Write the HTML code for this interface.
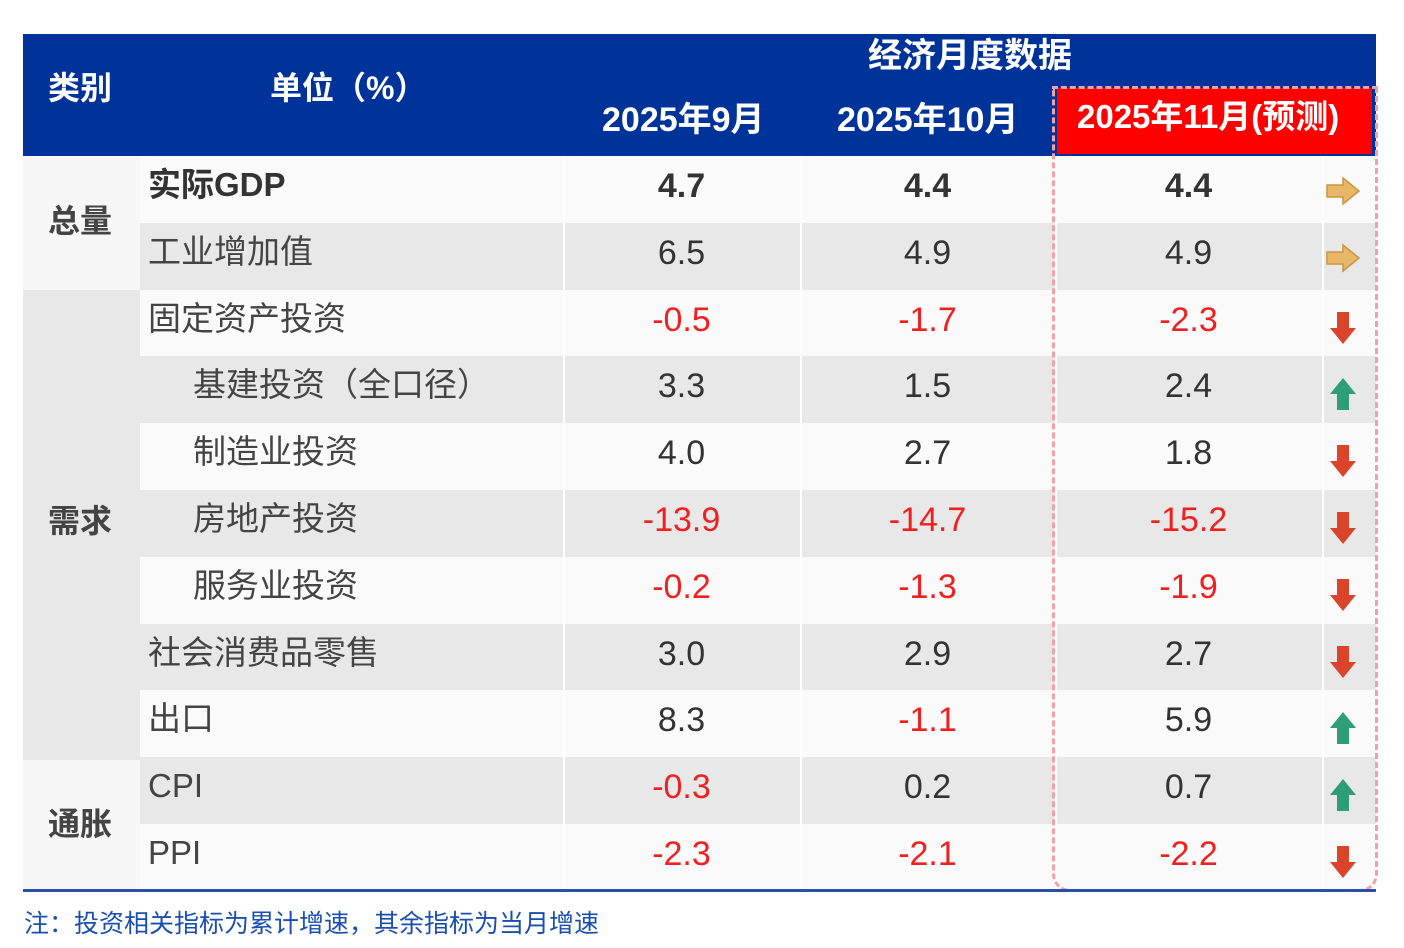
<!DOCTYPE html>
<html><head><meta charset="utf-8"><style>
body{margin:0;width:1404px;height:948px;background:#fff;position:relative;overflow:hidden;font-family:"Liberation Sans","Noto Sans CJK SC",sans-serif;}
.a{position:absolute;line-height:40px;}
.hd{color:#fff;font-weight:bold;font-size:34px;white-space:nowrap;}
.row{position:absolute;left:140px;width:1236px;}
.t{position:absolute;font-size:33px;color:#444;white-space:nowrap;line-height:40px;}
.n{position:absolute;font-size:34px;color:#333;text-align:center;line-height:40px;}
.r{color:#f02020;}
</style></head><body>
<div class="a" style="left:23px;top:34px;width:1353px;height:122px;background:#003399"></div>
<div class="a hd" style="left:48px;top:68px;font-size:32px">类别</div>
<div class="a hd" style="left:270px;top:68px;font-size:32px">单位（%）</div>
<div class="a hd" style="left:868px;top:36px">经济月度数据</div>
<div class="a hd" style="left:602px;top:100px">2025年9月</div>
<div class="a hd" style="left:837px;top:100px">2025年10月</div>
<div class="a" style="left:1057px;top:88px;width:315px;height:66px;background:#ff0000"></div>
<div class="a hd" style="left:1077px;top:97px;font-size:33px">2025年11月(预测)</div>

<div class="a" style="left:23px;top:156px;width:117px;height:134px;background:#f7f7f7"></div>
<div class="a" style="left:23px;top:290px;width:117px;height:470px;background:#e8e8e8"></div>
<div class="a" style="left:23px;top:760px;width:117px;height:131px;background:#f7f7f7"></div>
<div class="a" style="left:48px;top:201px;font-size:32px;font-weight:bold;color:#444">总量</div>
<div class="a" style="left:48px;top:501px;font-size:32px;font-weight:bold;color:#444">需求</div>
<div class="a" style="left:48px;top:804px;font-size:32px;font-weight:bold;color:#444">通胀</div>

<div id="rows"></div>
<script>
const d=[["实际GDP","4.7","4.4","4.4","R",0,1],["工业增加值","6.5","4.9","4.9","R",0],["固定资产投资","-0.5","-1.7","-2.3","D",0],["基建投资（全口径）","3.3","1.5","2.4","U",1],["制造业投资","4.0","2.7","1.8","D",1],["房地产投资","-13.9","-14.7","-15.2","D",1],["服务业投资","-0.2","-1.3","-1.9","D",1],["社会消费品零售","3.0","2.9","2.7","D",0],["出口","8.3","-1.1","5.9","U",0],["CPI","-0.3","0.2","0.7","U",0],["PPI","-2.3","-2.1","-2.2","D",0]];
let h="";const H=66.8;
const arr={R:'<svg width="36" height="30" viewBox="0 0 36 30"><path d="M2 9h16V2l16 13-16 13v-7H2z" fill="#e8b868" stroke="#c9963e" stroke-width="1.5"/></svg>',
D:'<svg width="30" height="36" viewBox="0 0 30 36"><path d="M9 2h12v16h7L15 34 2 18h7z" fill="#d9442a"/></svg>',
U:'<svg width="30" height="36" viewBox="0 0 30 36"><path d="M9 34h12V18h7L15 2 2 18h7z" fill="#2e9e78"/></svg>'};
d.forEach((r,i)=>{const y=156+i*H;const bg=i%2?"#e8e8e8":"#fafafa";
h+=`<div class="row" style="top:${y}px;height:${H+1}px;background:${bg}"></div>`;
h+=`<div class="t" style="left:${r[5]?193:148}px;top:${y+9}px;${r[6]?'font-weight:bold;color:#333':''}">${r[0]}</div>`;
[[563,237,1],[800,255,2],[1055,267,3]].forEach(c=>{const v=r[c[2]];h+=`<div class="n ${v[0]=='-'?'r':''}" style="left:${c[0]}px;width:${c[1]}px;top:${y+10}px;${i==0?'font-weight:bold':''}">${v}</div>`});
h+=`<div class="a" style="left:1325px;top:${y+20}px;width:36px;text-align:center;line-height:normal">${arr[r[4]]}</div>`;
});
[563,800,1055,1322].forEach(x=>h+=`<div class="a" style="left:${x}px;top:156px;width:2px;height:735px;background:#fff"></div>`);
document.getElementById('rows').innerHTML=h;
</script>
<div class="a" style="left:1052px;top:86px;width:320px;height:800px;border:3px dashed #f4a0a8;border-radius:0 0 18px 18px"></div>
<div class="a" style="left:23px;top:889px;width:1353px;height:3px;background:#2b4fa8"></div>
<div class="a" style="left:24px;top:904px;font-size:25px;color:#1a4fb0;white-space:nowrap">注：投资相关指标为累计增速，其余指标为当月增速</div>
</body></html>
